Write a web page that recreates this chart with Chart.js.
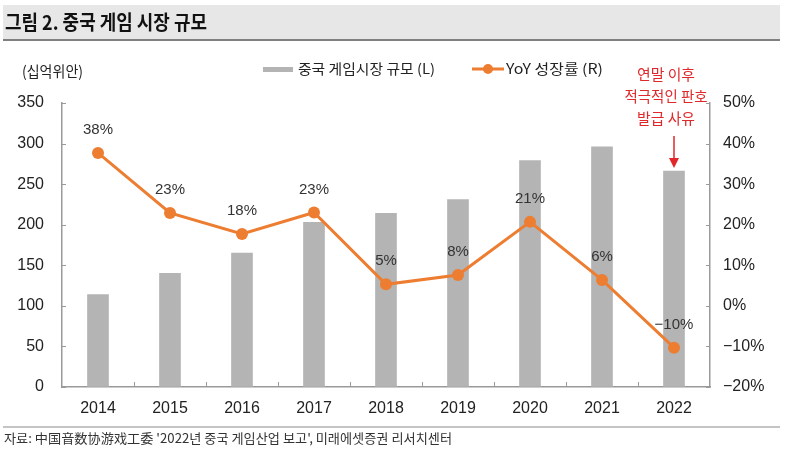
<!DOCTYPE html>
<html>
<head>
<meta charset="utf-8">
<script src="https://cdn.jsdelivr.net/npm/chart.js@4"></script>
<style>
  body { margin: 0; background: #fff; }
  canvas { display: block; }
</style>
</head>
<body>
<canvas id="chart-canvas" width="800" height="458"></canvas>
<script>
// data
var years = ['2014', '2015', '2016', '2017', '2018', '2019', '2020', '2021', '2022']
var marketSize = [114, 140, 165, 203, 214, 231, 279, 296, 266]   // 십억위안 (L)
var yoyGrowth = [37.7, 22.9, 17.7, 23.0, 5.3, 7.6, 20.7, 6.4, -10.3] // % (R)
var leftTicks = { min: 0, max: 350, step: 50 }
var rightTicks = { min: -20, max: 50, step: 10 }

var barColor = '#b4b4b4'
var lineColor = '#ed7d31'
var axisColor = '#9a9a9a'
var krFont = '"Noto Sans CJK KR", "Noto Sans", sans-serif'
var numFont = '"Liberation Sans", Arial, sans-serif'

function pct(v) {
    var r = Math.round(v)
    return (r < 0 ? '\u2212' + Math.abs(r) : r) + '%'
}

// draw text squeezed/stretched to a given width (the source uses a narrow font)
function fitText(ctx, text, x, y, w, align) {
    ctx.save()
    var mw = ctx.measureText(text).width
    var s = w / mw
    ctx.translate(x, y)
    ctx.scale(s, 1)
    ctx.textAlign = align || 'left'
    ctx.fillText(text, 0, 0)
    ctx.restore()
}

var decorations = {
    id: 'decorations',
    beforeDraw: function (chart) {
        var c = chart.ctx
        c.save()
        // title bar
        c.fillStyle = '#e7e7e7'
        c.fillRect(3, 5, 777, 35)
        c.fillStyle = '#808080'
        c.fillRect(3, 39, 777, 2)
        c.fillStyle = '#111'
        c.font = 'bold 20px ' + krFont
        c.textBaseline = 'middle'
        fitText(c, '그림 2. 중국 게임 시장 규모', 5, 22, 202)
        // footer
        c.fillStyle = '#c4c4c4'
        c.fillRect(3, 426, 777, 2)
        c.fillStyle = '#333'
        c.font = '13px ' + krFont
        fitText(c, "자료: 中国音数协游戏工委 '2022년 중국 게임산업 보고', 미래에셋증권 리서치센터", 4, 438, 448)
        // unit
        c.fillStyle = '#222'
        c.font = '15px ' + krFont
        fitText(c, '(십억위안)', 22, 71, 61)
        // legend
        c.fillStyle = barColor
        c.fillRect(263, 67, 30, 5)
        c.fillStyle = '#222'
        c.font = '14px ' + krFont
        fitText(c, chart.data.datasets[1].label, 298, 69, 137)
        c.strokeStyle = lineColor
        c.lineWidth = 3
        c.beginPath()
        c.moveTo(472, 69)
        c.lineTo(504, 69)
        c.stroke()
        c.fillStyle = lineColor
        c.beginPath()
        c.arc(488, 69, 5, 0, Math.PI * 2)
        c.fill()
        c.fillStyle = '#222'
        fitText(c, chart.data.datasets[0].label, 506, 69, 97)
        c.restore()
    },
    afterDraw: function (chart) {
        var c = chart.ctx
        var x = chart.scales.x
        var area = chart.chartArea
        c.save()
        // inward tick marks
        c.strokeStyle = axisColor
        c.lineWidth = 1
        c.beginPath()
        var half = (x.getPixelForValue(1) - x.getPixelForValue(0)) / 2
        for (var i = 0; i < years.length - 1; i++) {
            var px = Math.round(x.getPixelForValue(i) + half) + 0.5
            c.moveTo(px, area.bottom)
            c.lineTo(px, area.bottom - 5)
        }
        chart.scales.y.ticks.forEach(function (t) {
            var py = Math.round(chart.scales.y.getPixelForValue(t.value)) + 0.5
            c.moveTo(area.left, py)
            c.lineTo(area.left + 4, py)
        })
        chart.scales.y1.ticks.forEach(function (t) {
            var py = Math.round(chart.scales.y1.getPixelForValue(t.value)) + 0.5
            c.moveTo(area.right, py)
            c.lineTo(area.right - 4, py)
        })
        c.stroke()

        // value labels above the growth line
        var meta = chart.getDatasetMeta(0)
        c.fillStyle = '#333'
        c.font = '15px ' + numFont
        c.textAlign = 'center'
        c.textBaseline = 'middle'
        meta.data.forEach(function (pt, i) {
            c.fillText(pct(yoyGrowth[i]), pt.x, pt.y - 23)
        })

        // annotation over 2022
        var ax = x.getPixelForValue(years.length - 1)
        c.fillStyle = '#e0282a'
        c.font = '15px ' + krFont
        fitText(c, '연말 이후', ax - 8, 74, 58, 'center')
        fitText(c, '적극적인 판호', ax - 8, 96, 83, 'center')
        fitText(c, '발급 사유', ax - 8, 118, 58, 'center')
        c.strokeStyle = '#e0282a'
        c.lineWidth = 1.5
        c.beginPath()
        c.moveTo(ax, 136)
        c.lineTo(ax, 160)
        c.stroke()
        c.beginPath()
        c.moveTo(ax - 5, 158)
        c.lineTo(ax + 5, 158)
        c.lineTo(ax, 168)
        c.closePath()
        c.fill()
        c.restore()
    }
}

var ctx = document.getElementById('chart-canvas').getContext('2d')

var chart = new Chart(ctx, {
    type: 'bar',
    data: {
        labels: years,
        datasets: [{
            type: 'line',
            label: 'YoY 성장률 (R)',
            data: yoyGrowth,
            yAxisID: 'y1',
            borderColor: lineColor,
            backgroundColor: lineColor,
            borderWidth: 3,
            pointRadius: 6,
            pointBackgroundColor: lineColor,
            pointBorderWidth: 0,
            tension: 0,
            order: 0
        }, {
            type: 'bar',
            label: '중국 게임시장 규모 (L)',
            data: marketSize,
            yAxisID: 'y',
            backgroundColor: barColor,
            barThickness: 21,
            order: 1
        }]
    },
    options: {
        responsive: false,
        animation: false,
        devicePixelRatio: 1,
        layout: {
            padding: { top: 103, left: 0, right: 0, bottom: 0 }
        },
        plugins: {
            legend: { display: false },
            title: { display: false },
            tooltip: { enabled: false }
        },
        scales: {
            x: {
                offset: true,
                grid: { display: true, drawOnChartArea: false, drawTicks: false },
                border: { color: axisColor, width: 1.5 },
                ticks: { color: '#222', font: { family: numFont, size: 16 }, padding: 12 },
                afterFit: function (s) { s.height = 71 }
            },
            y: {
                position: 'left',
                min: leftTicks.min,
                max: leftTicks.max,
                grid: { drawOnChartArea: false, drawTicks: false },
                border: { color: axisColor, width: 1.5 },
                ticks: { stepSize: leftTicks.step, color: '#222', font: { family: numFont, size: 16 }, padding: 18 },
                afterFit: function (s) { s.width = 62 }
            },
            y1: {
                position: 'right',
                min: rightTicks.min,
                max: rightTicks.max,
                grid: { drawOnChartArea: false, drawTicks: false },
                border: { color: axisColor, width: 1.5 },
                ticks: {
                    stepSize: rightTicks.step,
                    color: '#222',
                    font: { family: numFont, size: 16 },
                    padding: 13,
                    callback: function (v) { return pct(v) }
                },
                afterFit: function (s) { s.width = 90 }
            }
        }
    },
    plugins: [decorations]
})
</script>
</body>
</html>
